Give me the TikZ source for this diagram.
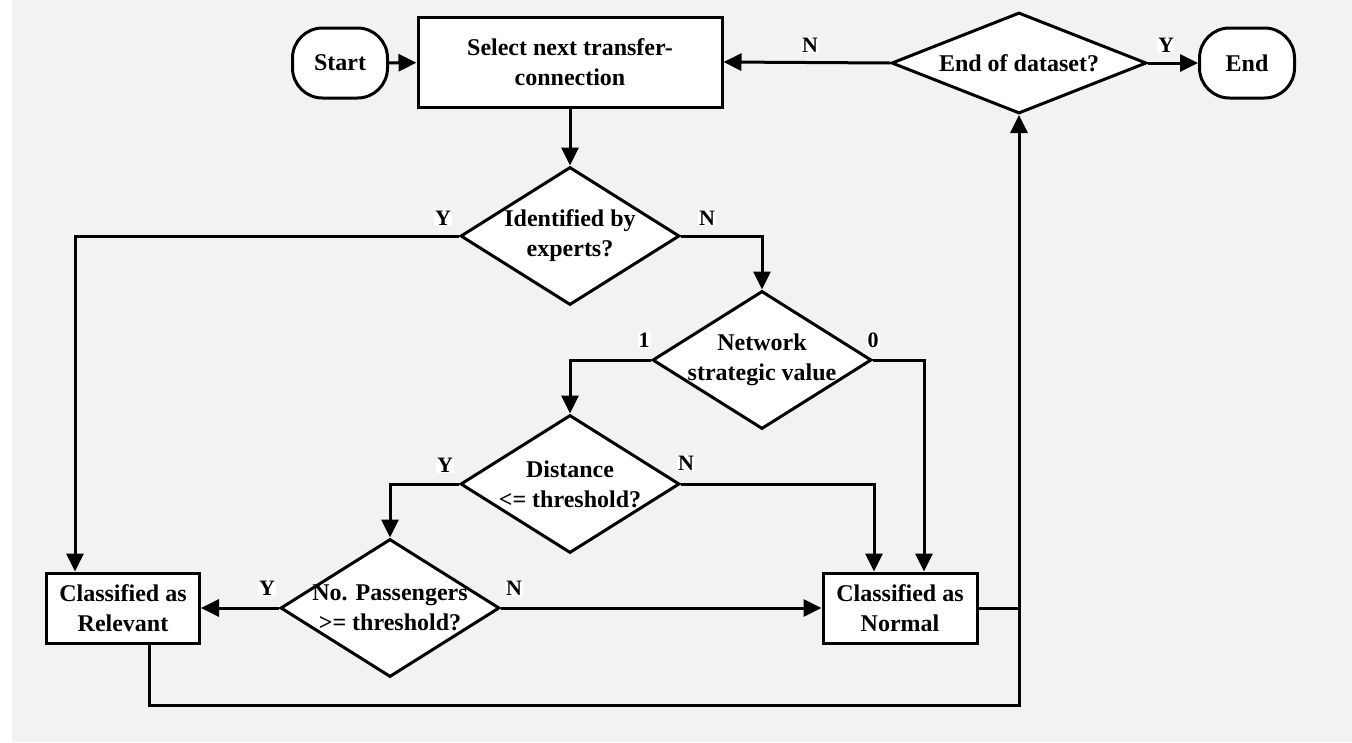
\documentclass[tikz,border=0pt]{standalone}
\usepackage{fontspec}
\setmainfont{Liberation Serif}
\usetikzlibrary{shapes.geometric,arrows.meta}
\definecolor{bggray}{HTML}{F2F2F2}
\begin{document}
\begin{tikzpicture}[x=1pt,y=-1pt,
  every node/.style={font=\fontsize{24}{30}\selectfont\bfseries},
  box/.style={draw,line width=3pt,fill=white,minimum width=154pt,minimum height=70pt,align=center,inner sep=0pt},
  term/.style={draw,line width=3pt,fill=white,rounded corners=30pt,minimum width=95pt,minimum height=70pt,inner sep=0pt},
  dec/.style={diamond,draw,line width=3pt,fill=white,inner sep=0pt,minimum width=219pt,minimum height=138pt},
  txt/.style={align=center,inner sep=0pt},
  lab/.style={fill=white,inner sep=1pt,font=\fontsize{22}{24}\selectfont\bfseries},
  conn/.style={line width=3pt},
  arr/.style={conn,-{Triangle[length=18pt,width=17pt]}}
]
% background
\fill[white] (0,0) rectangle (1352,742);
\fill[bggray] (12,0) rectangle (1352,742);
\useasboundingbox (0,0) rectangle (1352,742);

% nodes
\node[term] (start) at (340,63) {Start};
\node[box,minimum width=304pt,minimum height=90pt] (sel) at (570,62) {Select next transfer-\\connection};
\node[dec,minimum width=255pt,minimum height=101pt] (endq) at (1019,63) {};
\node[txt] (endqt) at (endq) {End of dataset?};
\node[term] (end) at (1247,63) {End};

\node[dec] (ident) at (570,236) {};
\node[txt] (identt) at (ident) {Identified by\\experts?};

\node[dec] (net) at (762,360) {};
\node[txt] (nett) at (net) {Network\\strategic value};

\node[dec] (dist) at (570,484) {};
\node[txt] (distt) at (dist) {Distance\\<= threshold?};

\node[dec] (pass) at (390,608) {};
\node[txt] (passt) at (pass) {No. Passengers\\>= threshold?};

\node[box,minimum width=153pt] (rel) at (123,608) {Classified as\\Relevant};
\node[box] (norm) at (900,608) {Classified as\\Normal};

\coordinate (j) at (1019,608);
\coordinate (bl) at (1019,705);

% connectors
\draw[arr] (start) -- (sel);
\draw[arr] (endq.west) -- (sel.east);
\draw[arr] (endq.east) -- (end.west);
\draw[arr] (sel.south) -- (ident.north);
\draw[arr] (ident.west) -| ([xshift=-48pt]rel.north);
\draw[arr] (ident.east) -| (net.north);
\draw[arr] (net.west) -| (dist.north);
\draw[arr] (net.east) -| ([xshift=24pt]norm.north);
\draw[arr] (dist.west) -| (pass.north);
\draw[arr] (dist.east) -| ([xshift=-26pt]norm.north);
\draw[arr] (pass.west) -- (rel.east);
\draw[arr] (pass.east) -- (norm.west);
\draw[conn] (norm.east) -- (j);
\draw[arr] ([xshift=26pt]rel.south) |- (bl) -- (endq.south);

% labels
\node[lab] (lN1) at (810,45) {N};
\node[lab] (lY1) at (1166,45) {Y};
\node[lab] (lY2) at (443,218) {Y};
\node[lab] (lN2) at (707,218) {N};
\node[lab] (l1) at (644,340) {1};
\node[lab] (l0) at (873,340) {0};
\node[lab] (lY3) at (445,465) {Y};
\node[lab] (lN3) at (686,463) {N};
\node[lab] (lY4) at (267,588) {Y};
\node[lab] (lN4) at (514,588) {N};
\end{tikzpicture}
\end{document}
